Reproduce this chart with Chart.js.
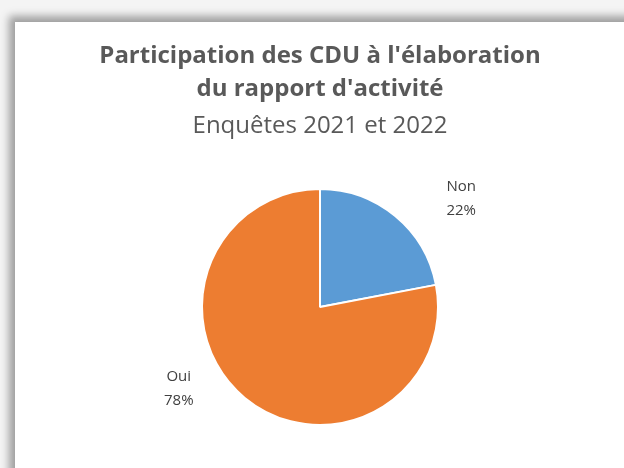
<!DOCTYPE html>
<html>
<head>
<meta charset="utf-8">
<script src="https://cdn.jsdelivr.net/npm/chart.js@4/dist/chart.umd.min.js"></script>
<style>
  html, body { margin: 0; padding: 0; background: #f4f4f4; }
  #wrap { position: relative; width: 624px; height: 468px; overflow: hidden; background: #f4f4f4; }
  #frame {
    position: absolute; left: 15px; top: 22px; width: 640px; height: 480px;
    background: #fff;
    box-shadow: -4px -4px 8px 2px rgba(0,0,0,0.35);
  }
  #chart { position: absolute; left: 0; top: 0; }
</style>
</head>
<body>
<div id="wrap">
  <div id="frame"></div>
  <canvas id="chart" width="624" height="468"></canvas>
</div>
<script>
const categories = ['Non', 'Oui'];
const values = [22, 78];
const colors = ['#5B9BD5', '#ED7D31'];
const titleLines = ["Participation des CDU à l'élaboration", "du rapport d'activité"];
const subtitleText = 'Enquêtes 2021 et 2022';

// label nudges from the slice's outer mid point, like Excel's "best fit"
const labelNudge = [[66, -17], [-66, -9]];

const outsideLabels = {
    id: 'outsideLabels',
    afterDatasetsDraw(chart) {
        const ctx = chart.ctx;
        const meta = chart.getDatasetMeta(0);
        ctx.save();
        ctx.font = '15px "Open Sans", sans-serif';
        ctx.fillStyle = '#404040';
        ctx.textAlign = 'center';
        ctx.textBaseline = 'middle';
        meta.data.forEach(function(arc, i) {
            const mid = (arc.startAngle + arc.endAngle) / 2;
            const x = arc.x + Math.cos(mid) * arc.outerRadius + labelNudge[i][0];
            const y = arc.y + Math.sin(mid) * arc.outerRadius + labelNudge[i][1];
            ctx.fillText(categories[i], x, y - 12);
            ctx.fillText(values[i] + '%', x, y + 12);
        });
        ctx.restore();
    }
};

new Chart(document.getElementById('chart').getContext('2d'), {
    type: 'pie',
    data: {
        labels: categories,
        datasets: [{
            data: values,
            backgroundColor: colors,
            borderColor: '#ffffff',
            borderWidth: 2
        }]
    },
    options: {
        responsive: false,
        animation: false,
        layout: { padding: { left: 16, bottom: 42 } },
        plugins: {
            legend: { display: false },
            tooltip: { enabled: false },
            title: {
                display: true,
                text: titleLines,
                color: '#595959',
                font: { family: '"Open Sans", sans-serif', size: 24, weight: 'bold', lineHeight: 1.375 },
                padding: { top: 40, bottom: 0 }
            },
            subtitle: {
                display: true,
                text: subtitleText,
                color: '#595959',
                font: { family: '"Open Sans", sans-serif', size: 24, weight: 'normal', lineHeight: 1.375 },
                padding: { top: 4, bottom: 45 }
            }
        }
    },
    plugins: [outsideLabels]
});
</script>
</body>
</html>
